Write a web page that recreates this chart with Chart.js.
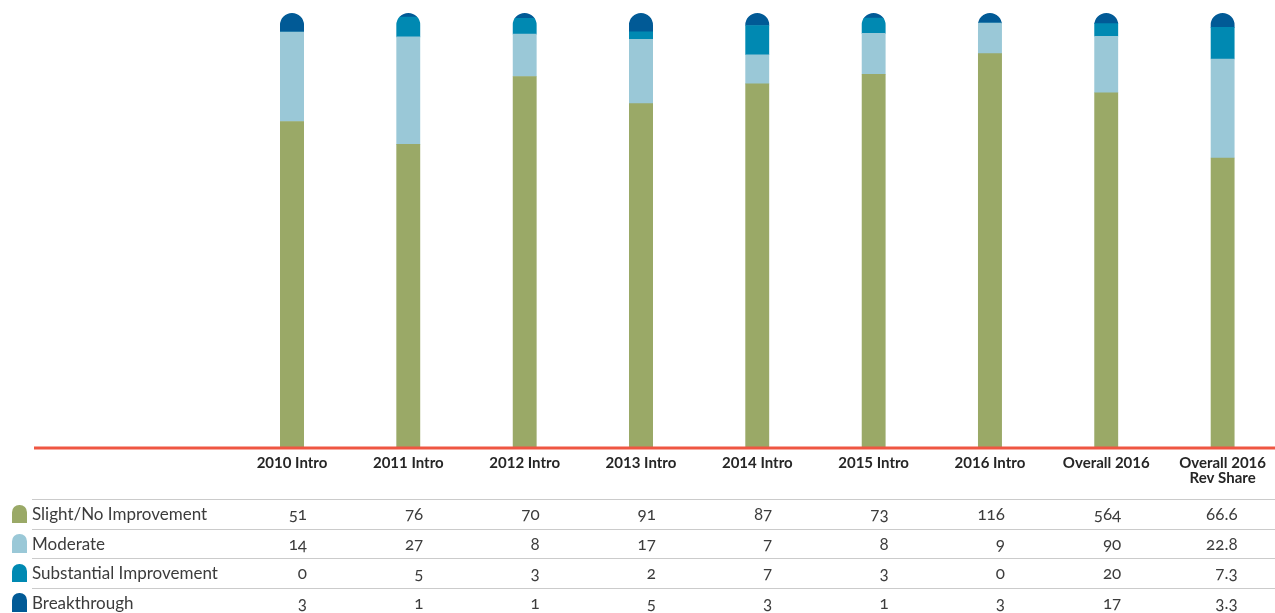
<!DOCTYPE html>
<html>
<head>
<meta charset="utf-8">
<title>Improvement levels by introduction year</title>
<script src="https://cdn.jsdelivr.net/npm/chart.js@4/dist/chart.umd.min.js"></script>
<style>
  html, body { margin: 0; padding: 0; background: #ffffff; }
  #wrap { position: relative; width: 1275px; height: 613px; overflow: hidden; }
  #chart { position: absolute; left: 0; top: 0; }
  .row {
    position: absolute; left: 32px; right: 0; height: 29.5px;
    border-top: 1.5px solid #cbcbcb; box-sizing: border-box;
    font-family: Lato, "Noto Sans", sans-serif; font-weight: 400; font-size: 17px;
    line-height: 28.5px; color: #3c3c3c;
    font-variant-numeric: oldstyle-nums;
  }
  .row .name { position: absolute; left: 0; top: 0; white-space: nowrap; }
  .row .swatch { position: absolute; left: -20px; top: 4.5px; width: 14.5px; height: 18.5px;
    border-radius: 7.25px 7.25px 0 0; }
  .row .num { position: absolute; top: 0; width: 60px; text-align: right; white-space: nowrap; }
</style>
</head>
<body>
<div id="wrap">
  <canvas id="chart" width="1275" height="613"></canvas>
  <div id="table"></div>
</div>
<script>
// Column headings
const categories = ['2010 Intro', '2011 Intro', '2012 Intro', '2013 Intro', '2014 Intro',
                    '2015 Intro', '2016 Intro', 'Overall 2016', ['Overall 2016', 'Rev Share']];

// Series names
const seriesNames = ['Slight/No Improvement', 'Moderate', 'Substantial Improvement', 'Breakthrough'];

// Counts per column (last column is revenue share, %)
const slight       = [51, 76, 70, 91, 87, 73, 116, 564, 66.6];
const moderate     = [14, 27,  8, 17,  7,  8,   9,  90, 22.8];
const substantial  = [ 0,  5,  3,  2,  7,  3,   0,  20,  7.3];
const breakthrough = [ 3,  1,  1,  5,  3,  1,   3,  17,  3.3];

// Table labels as printed
const tableLabels = {
  slight:       ['51', '76', '70', '91', '87', '73', '116', '564', '66.6'],
  moderate:     ['14', '27', '8', '17', '7', '8', '9', '90', '22.8'],
  substantial:  ['0', '5', '3', '2', '7', '3', '0', '20', '7.3'],
  breakthrough: ['3', '1', '1', '5', '3', '1', '3', '17', '3.3']
};

const seriesColors = ['#9aa967', '#9ac8d7', '#0089b2', '#015a96'];

const series = [slight, moderate, substantial, breakthrough];
const printed = [tableLabels.slight, tableLabels.moderate, tableLabels.substantial, tableLabels.breakthrough];

// Each column is shown as a 100% stack
const totals = categories.map((_, j) => series.reduce((s, arr) => s + arr[j], 0));
const shares = series.map(arr => arr.map((v, j) => v / totals[j] * 100));

// Clip every stack to a rounded-top column
const roundedTops = {
  id: 'roundedTops',
  beforeDatasetsDraw(chart) {
    const ctx = chart.ctx;
    const metas = chart.data.datasets.map((_, i) => chart.getDatasetMeta(i));
    ctx.save();
    ctx.beginPath();
    metas[0].data.forEach((bar0, j) => {
      const top = Math.min(...metas.map(m => m.data[j].y));
      const base = bar0.base;
      const half = bar0.width / 2;
      ctx.moveTo(bar0.x - half, base + 1);
      ctx.lineTo(bar0.x - half, top + half);
      ctx.arc(bar0.x, top + half, half, Math.PI, 0);
      ctx.lineTo(bar0.x + half, base + 1);
      ctx.closePath();
    });
    ctx.clip();
  },
  afterDatasetsDraw(chart) {
    const ctx = chart.ctx;
    ctx.restore();
    // red baseline running under the columns and the row labels
    const y0 = chart.scales.y.getPixelForValue(0) + 1;
    ctx.save();
    ctx.strokeStyle = '#ef5642';
    ctx.lineWidth = 3;
    ctx.beginPath();
    ctx.moveTo(34, y0);
    ctx.lineTo(chart.width, y0);
    ctx.stroke();
    ctx.restore();
  }
};

const chart = new Chart(document.getElementById('chart'), {
  type: 'bar',
  data: {
    labels: categories,
    datasets: seriesNames.map((name, i) => ({
      label: name,
      data: shares[i],
      backgroundColor: seriesColors[i],
      borderWidth: 0,
      barThickness: 24,
      clip: false
    }))
  },
  options: {
    responsive: false,
    animation: false,
    layout: { padding: { top: 13, left: 292, right: 45, bottom: 0 } },
    plugins: { legend: { display: false }, tooltip: { enabled: false } },
    scales: {
      x: {
        stacked: true,
        offset: false,
        grid: { display: false, drawTicks: false },
        border: { display: false },
        ticks: {
          autoSkip: false,
          maxRotation: 0,
          minRotation: 0,
          padding: 9,
          color: '#262626',
          font: { family: 'Lato', weight: 'bold', size: 15, lineHeight: 1 }
        },
        afterFit(scale) { scale.height = 166; }
      },
      y: {
        stacked: true,
        display: false,
        min: 0,
        max: 100
      }
    }
  },
  plugins: [roundedTops]
});

// Data table under the columns, aligned to the category scale
const table = document.getElementById('table');
const rowTop = 499;
const rowStep = 29.5;
seriesNames.forEach((name, i) => {
  const row = document.createElement('div');
  row.className = 'row';
  row.style.top = (rowTop + i * rowStep) + 'px';
  const sw = document.createElement('div');
  sw.className = 'swatch';
  sw.style.background = seriesColors[i];
  row.appendChild(sw);
  const label = document.createElement('span');
  label.className = 'name';
  label.textContent = name;
  row.appendChild(label);
  printed[i].forEach((txt, j) => {
    const x = chart.scales.x.getPixelForValue(j);
    const cell = document.createElement('span');
    cell.className = 'num';
    cell.style.left = (x + 15 - 60 - 32) + 'px';
    cell.textContent = txt;
    row.appendChild(cell);
  });
  table.appendChild(row);
});
</script>
</body>
</html>
